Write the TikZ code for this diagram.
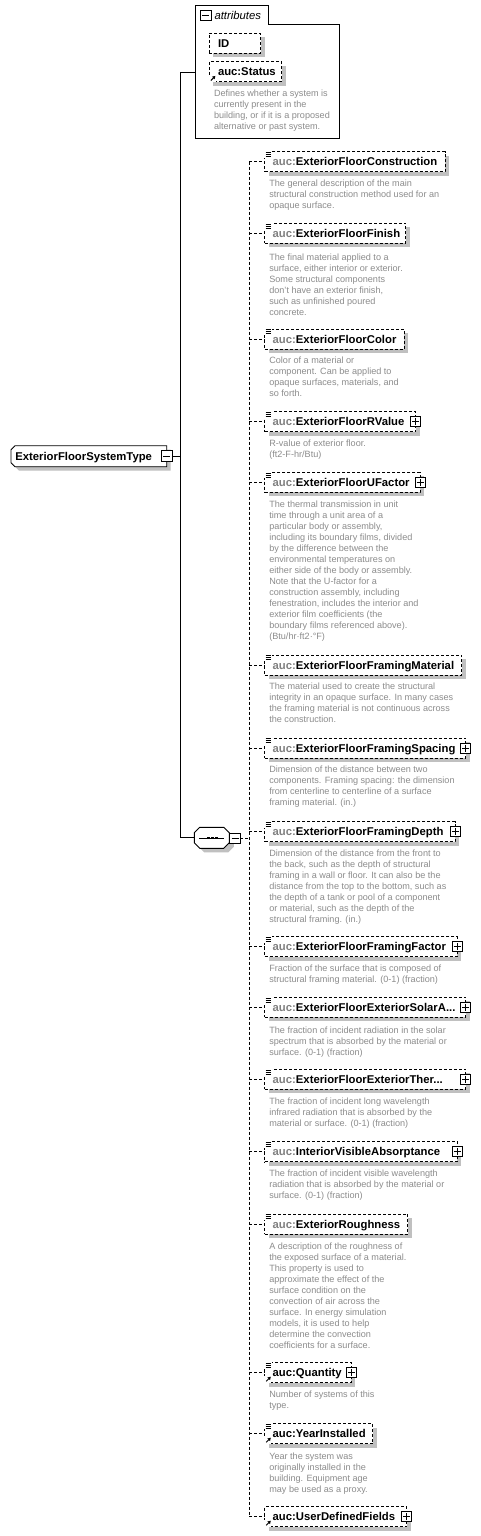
\documentclass[tikz,border=0pt]{standalone}
\usepackage{fontspec}
\setmainfont{Liberation Sans}
\usetikzlibrary{arrows.meta,shadows,calc}
\definecolor{shadowgrey}{RGB}{192,192,192}
\definecolor{descgrey}{RGB}{140,140,140}
\definecolor{prefixgrey}{RGB}{128,128,128}
\newcommand\mkel[4]{%
  \pgfmathsetmacro\elw{#3-264.7}%
  \node[elbox, minimum width=\elw pt] (#1) at (264.7,#2) {};
  \node[lbl] (#1l) at ([xshift=8pt,yshift=-4pt]#1.west) {#4};
}
\newcommand\docicon[1]{%
  \fill[white] ([xshift=-0.6pt,yshift=0.6pt]#1.north west) rectangle ([xshift=7pt,yshift=-5.8pt]#1.north west);
  \foreach \dd in {0.7,2.7,4.7}{\draw[line width=0.8pt] ([xshift=1pt,yshift=-\dd pt]#1.north west) -- ++(5pt,0pt);}
}
\newcommand\reficon[1]{%
  \fill[white] ([xshift=-0.6pt,yshift=-0.6pt]#1.south west) rectangle ([xshift=6.5pt,yshift=6.5pt]#1.south west);
  \draw[line width=1pt,-{Triangle[length=3pt,width=3.5pt]}] ([xshift=1.5pt,yshift=1.2pt]#1.south west) -- ++(4.6pt,4.6pt);
}
\newcommand\mkdesc[4]{\node[desc] (#1) at (#2,#3-4.2) {\rule{0pt}{7.5pt}#4};}
\newcommand\pfx{{\color{prefixgrey}auc:}}
\begin{document}
\begin{tikzpicture}[x=1pt,y=-1pt,
  every node/.style={inner sep=0pt, outer sep=0pt},
  boxline/.style={line width=0.9pt},
  conn/.style={line width=0.9pt},
  dconn/.style={line width=0.9pt, dash pattern=on 3pt off 2pt},
  elbox/.style={draw, line width=0.9pt, dash pattern=on 3pt off 2pt, fill=white, anchor=north west, minimum height=20pt,
    drop shadow={shadow xshift=4pt, shadow yshift=-4pt, fill=shadowgrey, opacity=1}},
  lbl/.style={anchor=base west, font=\fontsize{11.3pt}{13pt}\selectfont\bfseries},
  desc/.style={anchor=north west, align=left, text=descgrey, font=\fontsize{9.1pt}{11pt}\selectfont},
  plusicon/.style={draw, fill=white, line width=0.9pt, minimum size=10pt,
    path picture={\draw[line width=0.9pt] ([xshift=-3.5pt]path picture bounding box.center) -- ++(7pt,0pt);
                  \draw[line width=0.9pt] ([yshift=-3.5pt]path picture bounding box.center) -- ++(0pt,7pt);}},
  minusicon/.style={draw, fill=white, line width=0.9pt, minimum size=10.5pt,
    path picture={\draw[line width=0.9pt] ([xshift=-3.5pt]path picture bounding box.center) -- ++(7pt,0pt);}}
]
\useasboundingbox (0,0) rectangle (480,1536);
\fill[white] (0,0) rectangle (480,1536);

% ---------- attributes container ----------
\draw[boxline, fill=white] (195.3,5.3) -- (268.3,5.3) -- (268.3,24.3) -- (339.3,24.3) -- (339.3,138) -- (195.3,138) -- cycle;
\coordinate (attrjoin) at (195.3,72.3);
\node[minusicon] (attrminus) at (205.7,15.7) {};
\node[anchor=base west, font=\fontsize{11.3pt}{13pt}\selectfont\itshape] (attrlbl) at (214.5,19.4) {attributes};
\node[elbox, minimum width=51.4pt] (aid) at (209.3,33.3) {};
\node[lbl] (aidl) at ([xshift=8.7pt,yshift=-4pt]aid.west) {ID};
\node[elbox, minimum width=72.4pt] (ast) at (209.3,61.7) {};
\node[lbl] (astl) at ([xshift=8.7pt,yshift=-4pt]ast.west) {auc:Status};
\reficon{ast}
\mkdesc{astd}{214}{93.3}{Defines whether a system is\\currently present in the\\building, or if it is a proposed\\alternative or past system.}

% ---------- main complex type ----------
\fill[shadowgrey] (19,449.7) -- (170.7,449.7) -- (170.7,470.7) -- (19,470.7) -- (15,466.7) -- (15,453.7) -- cycle;
\draw[boxline, fill=white] (15,445.7) -- (166.7,445.7) -- (166.7,466.7) -- (15,466.7) -- (11,462.7) -- (11,449.7) -- cycle;
\node[lbl] (main) at (15.3,460) {ExteriorFloorSystemType};
\node[minusicon] (mainminus) at (166.7,456) {};

% ---------- sequence compositor ----------
\fill[shadowgrey] (204.3,831.3) -- (228.3,831.3) -- (233.8,836.8) -- (233.8,846.8) -- (228.3,852.3) -- (204.3,852.3) -- (198.8,846.8) -- (198.8,836.8) -- cycle;
\draw[boxline, fill=white] (199.8,827.3) -- (223.8,827.3) -- (229.3,832.8) -- (229.3,842.8) -- (223.8,848.3) -- (199.8,848.3) -- (194.3,842.8) -- (194.3,832.8) -- cycle;
\node[minimum width=35pt, minimum height=21pt] (seq) at (211.8,837.8) {};
\draw[line width=0.9pt] (199.3,838) -- (224.3,838);
\foreach \sx in {207,211.2,215.4}{\fill (\sx,836.7) rectangle ++(2.6,2.6);}
\node[minusicon] (seqminus) at (235,838.5) {};

% ---------- child elements ----------
\mkel{c1}{151.7}{445}{\pfx ExteriorFloorConstruction}
\docicon{c1}
\mkdesc{c1d}{269.3}{183.3}{The general description of the main\\structural construction method used for an\\opaque surface.}

\mkel{c2}{223.3}{405.7}{\pfx ExteriorFloorFinish}
\docicon{c2}
\mkdesc{c2d}{269.3}{257}{The final material applied to a\\surface, either interior or exterior.\\Some structural components\\don't have an exterior finish,\\such as unfinished poured\\concrete.}

\mkel{c3}{329}{404.3}{\pfx ExteriorFloorColor}
\docicon{c3}
\mkdesc{c3d}{269.3}{360.5}{Color of a material or\\component. Can be applied to\\opaque surfaces, materials, and\\so forth.}

\mkel{c4}{411.7}{415.7}{\pfx ExteriorFloorRValue}
\docicon{c4}
\node[plusicon] (c4p) at (c4.east) {};
\mkdesc{c4d}{269.3}{443.3}{R-value of exterior floor.\\(ft2-F-hr/Btu)}

\mkel{c5}{472.3}{420}{\pfx ExteriorFloorUFactor}
\docicon{c5}
\node[plusicon] (c5p) at (c5.east) {};
\mkdesc{c5d}{269.3}{504.3}{The thermal transmission in unit\\time through a unit area of a\\particular body or assembly,\\including its boundary films, divided\\by the difference between the\\environmental temperatures on\\either side of the body or assembly.\\Note that the U-factor for a\\construction assembly, including\\fenestration, includes the interior and\\exterior film coefficients (the\\boundary films referenced above).\\(Btu/hr·ft2·°F)}

\mkel{c6}{655}{461.7}{\pfx ExteriorFloorFramingMaterial}
\docicon{c6}
\mkdesc{c6d}{269.3}{686}{The material used to create the structural\\integrity in an opaque surface. In many cases\\the framing material is not continuous across\\the construction.}

\mkel{c7}{738}{465.7}{\pfx ExteriorFloorFramingSpacing}
\docicon{c7}
\node[plusicon] (c7p) at (c7.east) {};
\mkdesc{c7d}{269.3}{769.3}{Dimension of the distance between two\\components. Framing spacing: the dimension\\from centerline to centerline of a surface\\framing material. (in.)}

\mkel{c8}{821.7}{455}{\pfx ExteriorFloorFramingDepth}
\docicon{c8}
\node[plusicon] (c8p) at (c8.east) {};
\mkdesc{c8d}{269.3}{852.7}{Dimension of the distance from the front to\\the back, such as the depth of structural\\framing in a wall or floor. It can also be the\\distance from the top to the bottom, such as\\the depth of a tank or pool of a component\\or material, such as the depth of the\\structural framing. (in.)}

\mkel{c9}{936.7}{457}{\pfx ExteriorFloorFramingFactor}
\docicon{c9}
\node[plusicon] (c9p) at (c9.east) {};
\mkdesc{c9d}{269.3}{968.3}{Fraction of the surface that is composed of\\structural framing material. (0-1) (fraction)}

\mkel{c10}{997.3}{465.7}{\pfx ExteriorFloorExteriorSolarA...}
\docicon{c10}
\node[plusicon] (c10p) at (c10.east) {};
\mkdesc{c10d}{269.3}{1030}{The fraction of incident radiation in the solar\\spectrum that is absorbed by the material or\\surface. (0-1) (fraction)}

\mkel{c11}{1069.3}{465.7}{\pfx ExteriorFloorExteriorTher...}
\docicon{c11}
\node[plusicon] (c11p) at (c11.east) {};
\mkdesc{c11d}{269.3}{1101}{The fraction of incident long wavelength\\infrared radiation that is absorbed by the\\material or surface. (0-1) (fraction)}

\mkel{c12}{1141.7}{457.3}{\pfx InteriorVisibleAbsorptance}
\docicon{c12}
\node[plusicon] (c12p) at (c12.east) {};
\mkdesc{c12d}{269.3}{1173.3}{The fraction of incident visible wavelength\\radiation that is absorbed by the material or\\surface. (0-1) (fraction)}

\mkel{c13}{1214}{407.7}{\pfx ExteriorRoughness}
\docicon{c13}
\mkdesc{c13d}{269.3}{1245.7}{A description of the roughness of\\the exposed surface of a material.\\This property is used to\\approximate the effect of the\\surface condition on the\\convection of air across the\\surface. In energy simulation\\models, it is used to help\\determine the convection\\coefficients for a surface.}

\mkel{c14}{1362.5}{351.3}{auc:Quantity}
\docicon{c14}
\reficon{c14}
\node[plusicon] (c14p) at (c14.east) {};
\mkdesc{c14d}{269.3}{1394.3}{Number of systems of this\\type.}

\mkel{c15}{1423.5}{372.7}{auc:YearInstalled}
\docicon{c15}
\reficon{c15}
\mkdesc{c15d}{269.3}{1456}{Year the system was\\originally installed in the\\building. Equipment age\\may be used as a proxy.}

\mkel{c16}{1506.5}{406.7}{auc:UserDefinedFields}
\reficon{c16}
\node[plusicon] (c16p) at (c16.east) {};

% ---------- connectors ----------
\coordinate (trunk) at (180,0);
\coordinate (spine) at (249,0);
\draw[conn] (mainminus.east) -- (trunk |- mainminus.east);
\draw[conn] (attrjoin) -- (trunk |- attrjoin) -- (trunk |- seq.west) -- (seq.west);
\draw[dconn] (seqminus.east) -- (spine |- seqminus.east);
\draw[dconn] (spine |- c1.west) -- (spine |- c16.west);
\foreach \c in {c1,c2,c3,c4,c5,c6,c7,c8,c9,c10,c11,c12,c13,c14,c15,c16}{
  \draw[dconn] (spine |- \c.west) -- (\c.west);
}
\end{tikzpicture}
\end{document}
